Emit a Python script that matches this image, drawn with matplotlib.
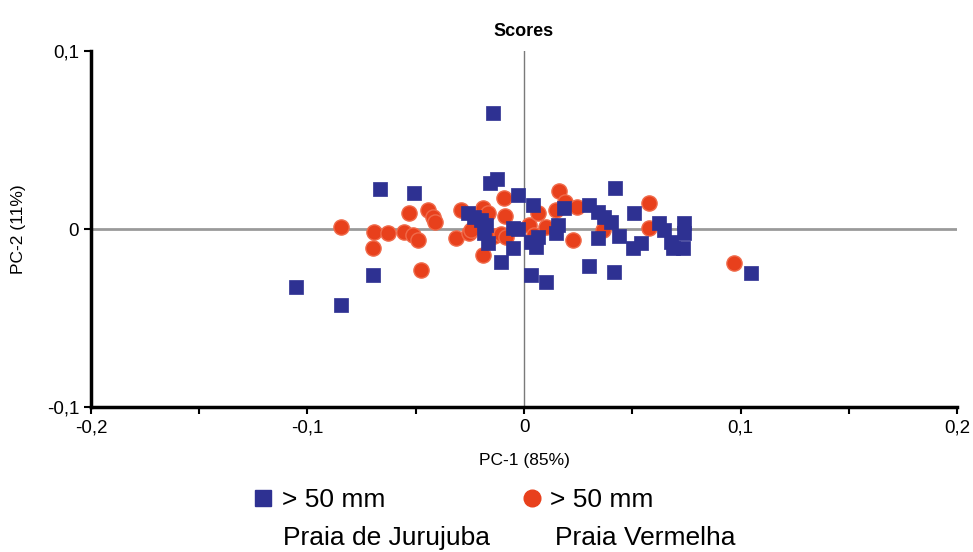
import matplotlib
matplotlib.use("Agg")
import matplotlib.pyplot as plt
from matplotlib.lines import Line2D
from matplotlib.ticker import MultipleLocator, FuncFormatter

plt.rcParams.update({
    "font.family": ["Liberation Sans", "DejaVu Sans"],
})

BLUE = "#2e3192"
RED = "#e8401c"
RED_EDGE = "#f06a4a"

# Praia de Jurujuba (> 50 mm)
jur_pc1 = [-0.1053, -0.0845, -0.0698, -0.0665, -0.0508, -0.0143, -0.0157, -0.0125,
           -0.0259, -0.0231, -0.0199, -0.0176, -0.0185, -0.0166, -0.0106, -0.0028,
           -0.0051, -0.0028, -0.0051, 0.0042, 0.0032, 0.0065, 0.0055, 0.0032,
           0.0102, 0.0157, 0.0148, 0.0185, 0.0300, 0.0342, 0.0370, 0.0402,
           0.0420, 0.0342, 0.0439, 0.0508, 0.0503, 0.0540, 0.0300, 0.0416,
           0.0624, 0.0647, 0.0679, 0.0688, 0.0734, 0.0739, 0.0739, 0.1049]
jur_pc2 = [-0.0326, -0.0427, -0.0258, 0.0225, 0.0202, 0.0652, 0.0258, 0.0281,
           0.0090, 0.0067, 0.0051, 0.0022, -0.0022, -0.0079, -0.0185, 0.0191,
           0.0006, 0.0000, -0.0107, 0.0135, -0.0073, -0.0045, -0.0101, -0.0258,
           -0.0298, 0.0022, -0.0022, 0.0118, 0.0135, 0.0096, 0.0067, 0.0039,
           0.0230, -0.0051, -0.0039, 0.0090, -0.0107, -0.0079, -0.0208, -0.0242,
           0.0034, -0.0006, -0.0073, -0.0107, -0.0107, 0.0034, -0.0022, -0.0247]

# Praia Vermelha (> 50 mm)
ver_pc1 = [-0.0845, -0.0693, -0.0628, -0.0698, -0.0531, -0.0554, -0.0513, -0.0490,
           -0.0443, -0.0420, -0.0411, -0.0476, -0.0314, -0.0291, -0.0254, -0.0189,
           -0.0166, -0.0189, -0.0092, -0.0088, -0.0139, -0.0106, -0.0245, -0.0083,
           0.0023, 0.0046, 0.0065, 0.0102, 0.0162, 0.0189, 0.0148, 0.0245,
           0.0226, 0.0365, 0.0577, 0.0577, 0.0970]
ver_pc2 = [0.0011, -0.0017, -0.0022, -0.0107, 0.0090, -0.0017, -0.0034, -0.0062,
           0.0107, 0.0067, 0.0039, -0.0230, -0.0051, 0.0107, -0.0022, 0.0118,
           0.0090, -0.0146, 0.0174, 0.0073, -0.0039, -0.0028, -0.0006, -0.0045,
           0.0022, -0.0034, 0.0090, 0.0011, 0.0213, 0.0152, 0.0107, 0.0124,
           -0.0062, -0.0006, 0.0146, 0.0006, -0.0191]

fig = plt.figure(figsize=(9.73, 5.52), dpi=100)
ax = fig.add_axes([91 / 973, 1 - 407 / 552, (957 - 91) / 973, (407 - 51) / 552])

ax.axhline(0, color="#9a9a9a", lw=2, zorder=1)
ax.axvline(0, color="#7a7a7a", lw=1, zorder=1)

ax.scatter(ver_pc1, ver_pc2, s=120, marker="o", color=RED, edgecolors=RED_EDGE,
           linewidths=1, zorder=2)
ax.scatter(jur_pc1, jur_pc2, s=100, marker="s", color=BLUE, edgecolors=BLUE,
           linewidths=0.5, zorder=3)

ax.set_xlim(-0.2, 0.2)
ax.set_ylim(-0.1, 0.1)
ax.xaxis.set_major_locator(MultipleLocator(0.1))
ax.xaxis.set_minor_locator(MultipleLocator(0.05))
ax.yaxis.set_major_locator(MultipleLocator(0.1))

fmt = FuncFormatter(lambda v, p: "0" if abs(v) < 1e-9 else f"{v:.1f}".replace(".", ","))
ax.xaxis.set_major_formatter(fmt)
ax.yaxis.set_major_formatter(fmt)

for s in ["top", "right"]:
    ax.spines[s].set_visible(False)
for s in ["left", "bottom"]:
    ax.spines[s].set_linewidth(2.5)
ax.tick_params(which="both", direction="out", length=5, width=1.5, labelsize=13.5)
ax.tick_params(axis="x", pad=4)

ax.set_title("Scores", fontsize=13, fontweight="bold", pad=11)
ax.set_xlabel("PC-1 (85%)", fontsize=12.5, labelpad=12)
ax.set_ylabel("PC-2 (11%)", fontsize=12.5, labelpad=15)

handles = [
    Line2D([], [], marker="s", ls="", color=BLUE, markersize=11),
    Line2D([], [], marker="o", ls="", color=RED, markersize=12),
]
fig.legend(handles, ["> 50 mm", "> 50 mm"], ncol=2, frameon=False,
           loc="center left", bbox_to_anchor=(250 / 973, 1 - 500 / 552), fontsize=19,
           handletextpad=0.2, columnspacing=5.05, handlelength=1.0, borderpad=0,
           borderaxespad=0)
fig.text(283 / 973, 1 - 538 / 552, "Praia de Jurujuba", fontsize=19, va="center")
fig.text(555 / 973, 1 - 538 / 552, "Praia Vermelha", fontsize=19, va="center")

fig.savefig("out.png", dpi=100)
